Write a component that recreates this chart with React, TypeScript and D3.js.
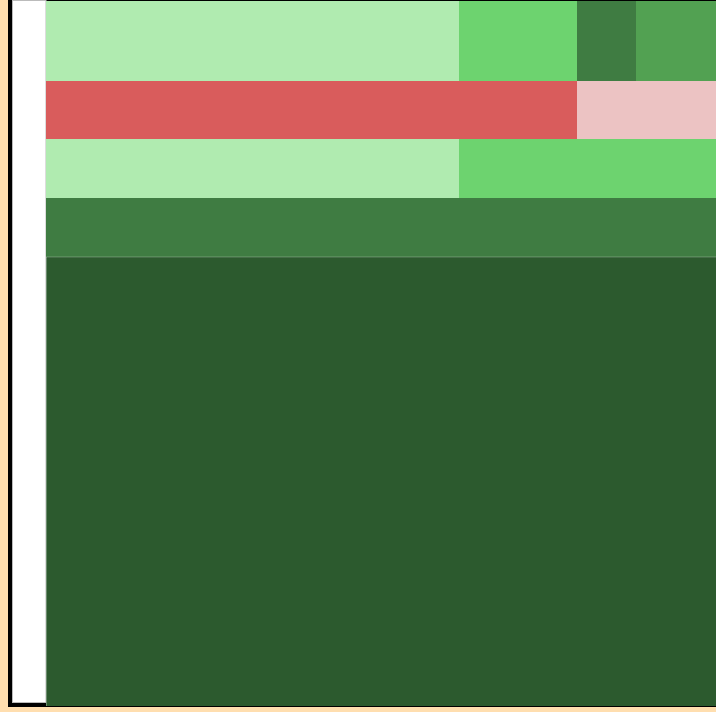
import React from "react";
import * as d3 from "d3";

// Row weights (heights) of the mosaic, top to bottom
const rowNames = ["A", "B", "C", "D", "E"];
const rowWeights = [8.0, 5.8, 5.9, 5.9, 44.9];

// Segment values per row (widths) and their category
const rowA = [41.3, 11.8, 5.9, 8.0];
const rowB = [53.1, 13.9];
const rowC = [41.3, 25.7];
const rowD = [67.0];
const rowE = [67.0];

const catA = ["light", "mid", "dark", "medium"];
const catB = ["neg", "lightneg"];
const catC = ["light", "mid"];
const catD = ["dark"];
const catE = ["darkest"];

const categories = ["light", "mid", "medium", "dark", "darkest", "neg", "lightneg"];
const palette = ["#b0ebb0", "#6dd36f", "#52a152", "#3f7c42", "#2c5a2e", "#d95c5c", "#ecc3c3"];

const rowValues = [rowA, rowB, rowC, rowD, rowE];
const rowCats = [catA, catB, catC, catD, catE];

export default function App() {
  const W = 716;
  const H = 712;
  const left = 46;
  const right = 716;
  const top = 1;
  const bottom = 706;

  const color = d3.scaleOrdinal<string, string>().domain(categories).range(palette);

  const yCum = [0, ...d3.cumsum(rowWeights)];
  const y = d3.scaleLinear().domain([0, d3.sum(rowWeights)]).range([top, bottom]);

  const cells: { x0: number; x1: number; y0: number; y1: number; fill: string; key: string }[] = [];
  rowValues.forEach((vals, i) => {
    const x = d3.scaleLinear().domain([0, d3.sum(vals)]).range([left, right]);
    const cum = [0, ...d3.cumsum(vals)];
    vals.forEach((v, j) => {
      cells.push({
        x0: x(cum[j]),
        x1: x(cum[j + 1]),
        y0: y(yCum[i]),
        y1: y(yCum[i + 1]),
        fill: color(rowCats[i][j]),
        key: `${rowNames[i]}-${j}`,
      });
    });
  });

  return (
    <svg
      width={W}
      height={H}
      style={{ position: "absolute", left: 0, top: 0, display: "block" }}
    >
      <rect x={0} y={0} width={W} height={H} fill="#ffdeaf" />
      {/* frame */}
      <rect x={8} y={0} width={W - 8} height={707} fill="#000" />
      <rect x={11} y={703} width={W - 11} height={4} fill="#000" />
      <rect x={12.5} y={0.5} width={left - 12.5} height={702} fill="#fff" stroke="#bbb" strokeWidth={1} />
      {cells.map((c) => (
        <rect
          key={c.key}
          x={c.x0}
          y={c.y0}
          width={c.x1 - c.x0}
          height={c.y1 - c.y0}
          fill={c.fill}
        />
      ))}
      <line x1={left} x2={right} y1={y(yCum[4])} y2={y(yCum[4])} stroke="#ffffff" strokeOpacity={0.25} />
      <line x1={left + 0.5} x2={left + 0.5} y1={y(yCum[4])} y2={bottom} stroke="#ffffff" strokeOpacity={0.3} />
    </svg>
  );
}
